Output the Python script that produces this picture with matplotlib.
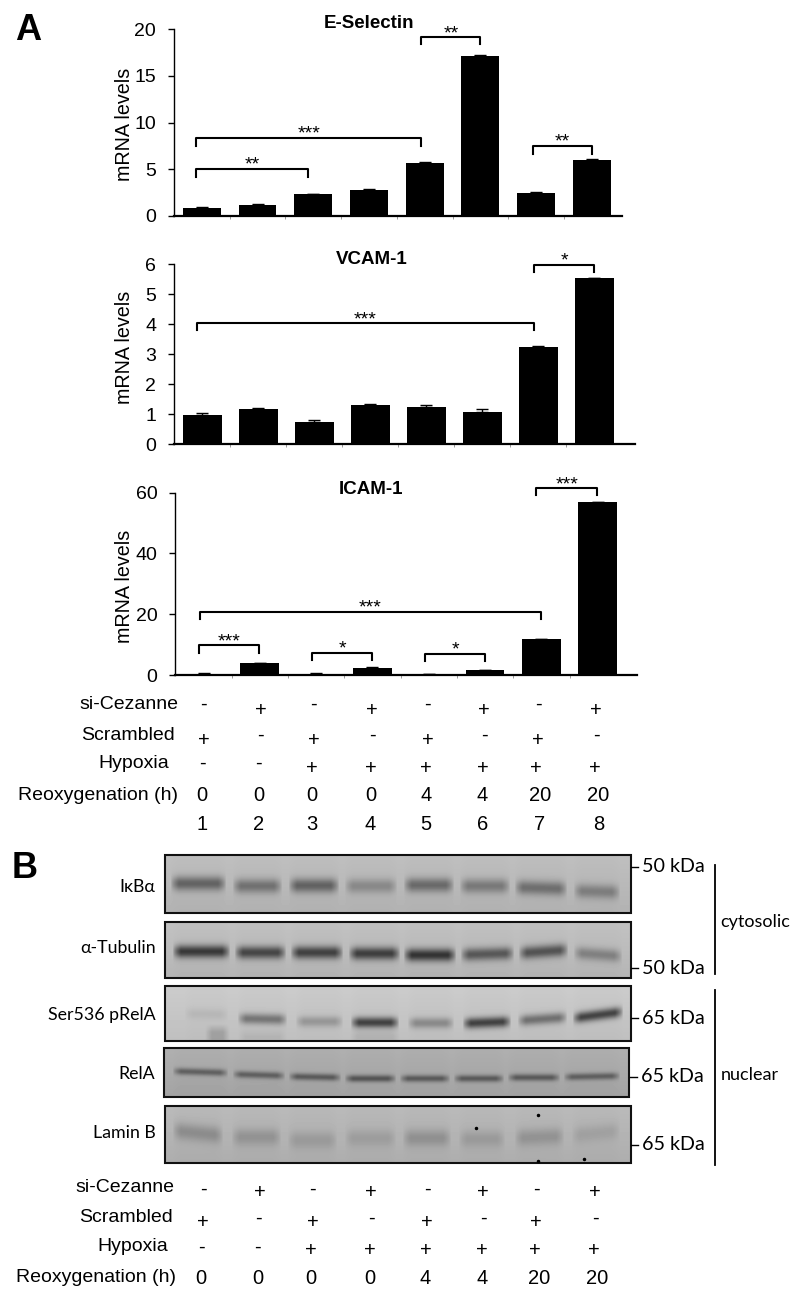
import numpy as np
import matplotlib
matplotlib.use('Agg')
import matplotlib.pyplot as plt
from matplotlib.patches import Rectangle

plt.rcParams['font.family'] = ['Liberation Sans', 'DejaVu Sans']

# bar values
esel_vals = [0.9, 1.2, 2.4, 2.75, 5.7, 17.15, 2.5, 6.0]
esel_errs = [0.07, 0.08, 0.0, 0.09, 0.1, 0.07, 0.08, 0.08]
vcam_vals = [0.98, 1.16, 0.75, 1.31, 1.24, 1.07, 3.23, 5.52]
vcam_errs = [0.04, 0.03, 0.05, 0.03, 0.05, 0.09, 0.05, 0.02]
icam_vals = [0.4, 3.9, 0.4, 2.3, 0.3, 1.5, 11.7, 56.8]
icam_errs = [0.2, 0.2, 0.1, 0.2, 0.1, 0.1, 0.3, 0.3]

# brackets: first bar, last bar, line height, foot height, stars
esel_brackets = [(-0.1, 1.9, 5.03, 4.17, '**'), (-0.1, 3.94, 8.37, 7.5, '***'),
                 (3.94, 5.0, 19.1, 18.4, '**'), (5.94, 7.0, 7.5, 6.66, '**')]
vcam_brackets = [(-0.1, 5.92, 4.02, 3.8, '***'), (5.93, 7.0, 5.98, 5.72, '*')]
icam_brackets = [(-0.06, 5.99, 20.7, 18.4, '***'), (-0.08, 0.99, 9.8, 7.35, '***'),
                 (1.93, 2.99, 7.35, 4.9, '*'), (3.94, 5.0, 7.0, 4.5, '*'),
                 (5.91, 6.99, 61.4, 59.1, '***')]

row_sicez = ['-', '+', '-', '+', '-', '+', '-', '+']
row_scram = ['+', '-', '+', '-', '+', '-', '+', '-']
row_hypox = ['-', '-', '+', '+', '+', '+', '+', '+']
row_reoxy = ['0', '0', '0', '0', '4', '4', '20', '20']
row_lanes = ['1', '2', '3', '4', '5', '6', '7', '8']

# blot lanes: left edge, right edge, band centre (px), band darkness, tilt
ikb_left = [171, 233, 289, 345, 404, 460, 515, 574]
ikb_right = [226, 282, 339, 397, 454, 510, 567, 620]
ikb_y = [883.5, 886, 885.5, 886, 885, 886, 888, 891.5]
ikb_dark = [0.33, 0.27, 0.33, 0.18, 0.30, 0.24, 0.28, 0.22]
ikb_tilt = [0, 0, 0, 0, 0, 0, 0.03, 0.03]
tub_left = [173, 235, 291, 349, 404, 461, 519, 574]
tub_right = [230, 286, 343, 400, 456, 514, 568, 622]
tub_y = [951.5, 952.5, 952.5, 953.5, 955, 954, 951.5, 954.5]
tub_dark = [0.50, 0.45, 0.47, 0.48, 0.52, 0.38, 0.40, 0.22]
tub_tilt = [0, 0, 0, 0, 0, -0.03, -0.07, 0.07]
prela_left = [185, 238, 296, 351, 408, 463, 518, 573]
prela_right = [228, 287, 343, 399, 454, 511, 567, 623]
prela_y = [1014, 1019, 1021.5, 1022.5, 1023, 1022.5, 1019, 1015]
prela_dark = [0.05, 0.30, 0.17, 0.50, 0.22, 0.50, 0.32, 0.50]
prela_tilt = [0.02, 0.02, 0, 0, 0, -0.04, -0.07, -0.13]
rela_left = [173, 233, 289, 345, 400, 454, 508, 564]
rela_right = [228, 285, 341, 396, 450, 504, 560, 620]
rela_y = [1072, 1075, 1077, 1078.5, 1078.5, 1078.5, 1077.5, 1076.5]
rela_dark = [0.28, 0.28, 0.30, 0.32, 0.30, 0.30, 0.30, 0.28]
rela_tilt = [0.03, 0.03, 0.02, 0, 0, 0, 0, -0.02]
lamin_left = [173, 232, 288, 345, 403, 459, 515, 572]
lamin_right = [223, 281, 337, 396, 451, 505, 564, 620]
lamin_y = [1133, 1137, 1140, 1138, 1138, 1139, 1137, 1133]
lamin_dark = [0.15, 0.12, 0.09, 0.08, 0.13, 0.09, 0.12, 0.07]
lamin_tilt = [0.1, 0, 0, 0, 0, 0, -0.04, -0.1]
lamin_spec_x = [538, 476, 538, 583.5]
lamin_spec_y = [1115, 1128, 1161, 1159]

W, H = 800, 1301
fig = plt.figure(figsize=(W / 100, H / 100), dpi=100)


def bar_panel(vals, errs, brackets, title, ticks, labels, axis_x, step, x_ext,
              y_top, y_zero, bar_w, title_xy, ylab_y):
    px_w = step * (8 + x_ext)
    ax = fig.add_axes([axis_x / W, 1 - y_zero / H, px_w / W, (y_zero - y_top) / H])
    ax.patch.set_alpha(0)
    x = np.arange(8)
    ax.bar(x, vals, width=bar_w, color='black', zorder=3)
    ax.errorbar(x, vals, yerr=[[0] * 8, errs], fmt='none', ecolor='black',
                elinewidth=1, capsize=4, capthick=1, zorder=2)
    ax.set_xlim(-0.5, 7.5 + x_ext)
    ax.set_ylim(0, ticks[-1])
    for s in ['top', 'right']:
        ax.spines[s].set_visible(False)
    ax.spines['left'].set_linewidth(1.0)
    ax.spines['bottom'].set_linewidth(1.6)
    ax.set_yticks(ticks)
    ax.set_yticklabels(labels, fontsize=14)
    ax.tick_params(axis='y', length=4.5, width=1.0, pad=8.5)
    ax.set_xticks(np.arange(0.5, 7.5, 1))
    ax.set_xticklabels([])
    ax.tick_params(axis='x', length=2, width=0.7, color='#999999')
    for x0, x1, top, foot, stars in brackets:
        ax.plot([x0, x0, x1, x1], [foot, top, top, foot], color='black', lw=1.5,
                clip_on=False, solid_joinstyle='round', zorder=4)
        ax.annotate(stars, ((x0 + x1) / 2, top), xytext=(0, -3.5), textcoords='offset points',
                    ha='center', va='bottom', fontsize=14, annotation_clip=False)
    pax.text(title_xy[0], title_xy[1], title, fontsize=13.5, fontweight='bold',
             ha='center', va='center')
    pax.text(124, ylab_y, 'mRNA levels', fontsize=14.2, rotation=90, ha='center', va='center')
    return ax


def row(labels, xs, y_minus, y_plus, name, name_x, name_y, size=14):
    pax.text(name_x, name_y + 1.5, name, ha='right', va='center', fontsize=size)
    for lab, xp in zip(labels, xs):
        yp = y_plus if lab == '+' else y_minus
        pax.text(xp, yp + 1.5, lab, ha='center', va='center', fontsize=size + 0.5)


def blot(box, bg, lefts, rights, ys, darks, tilts, sigma, smears=()):
    x0, y0, x1, y1 = box
    xx, yy = np.meshgrid(np.arange(x0, x1) + 0.5, np.arange(y0, y1) + 0.5)
    # background gets a little darker towards the foot of the membrane
    img = np.full(xx.shape, float(bg)) - 0.05 * (yy - y0) / (y1 - y0)
    for l, r, yc, d, t in zip(lefts, rights, ys, darks, tilts):
        edge = np.clip((xx - l) / 8, 0, 1) * np.clip((r - xx) / 8, 0, 1)
        edge = edge ** 0.6
        mid = yc + t * (xx - (l + r) / 2)
        img -= d * edge * np.exp(-((yy - mid) / sigma) ** 2 / 2)
        img -= 0.008 * edge
    for l, r, t, b, d in smears:
        edge = np.clip((xx - l) / 7, 0, 1) * np.clip((r - xx) / 7, 0, 1)
        img -= d * edge * np.clip((yy - t) / 8, 0, 1) * np.clip((b - yy) / 4 + 0.5, 0, 1)
    pax.imshow(np.clip(img, 0, 1), cmap='gray', vmin=0, vmax=1, extent=(x0, x1, y1, y0),
               aspect='auto', interpolation='bilinear', zorder=1)
    pax.add_patch(Rectangle((x0, y0), x1 - x0, y1 - y0, fill=False, ec='#111111', lw=1.5, zorder=2))


# overlay in pixel coordinates for labels and blots
pax = fig.add_axes([0, 0, 1, 1], zorder=5)
pax.patch.set_alpha(0)
pax.axis('off')

bar_panel(esel_vals, esel_errs, esel_brackets, 'E-Selectin', [0, 5, 10, 15, 20],
          ['0', '5', '10', '15', '20'], 174, 55.7, 0.04, 29, 216, 0.68, (369, 24), 124)
bar_panel(vcam_vals, vcam_errs, vcam_brackets, 'VCAM-1', [0, 1, 2, 3, 4, 5, 6],
          ['0', '1', '2', '3', '4', '5', '6'], 174.4, 56, 0.22, 264, 444, 0.69, (371.5, 260), 347)
bar_panel(icam_vals, icam_errs, icam_brackets, 'ICAM-1', [0, 20, 40, 60],
          ['0', '20', '40', '60'], 175.4, 56.3, 0.2, 492.7, 675, 0.69, (370.5, 489), 586)

pax.text(28, 31, 'A', fontsize=26, fontweight='bold', ha='center', va='center')
pax.text(25, 869, 'B', fontsize=26, fontweight='bold', ha='center', va='center')

# treatment rows, panel A
xs_a1 = [203, 260.6, 313, 371.7, 427.7, 484, 538, 596]
xs_a2 = [204, 260.6, 313.7, 372, 427.7, 484.5, 538, 596.4]
xs_a3 = [202.6, 258.6, 312, 371, 426, 483, 536, 595]
xs_a4 = [202, 258.6, 311.7, 370.5, 426, 482.4, 540, 598.4]
row(row_sicez, xs_a1, 703, 709, 'si-Cezanne', 178.5, 703)
row(row_scram, xs_a2, 734, 739, 'Scrambled', 175, 734)
row(row_hypox, xs_a3, 762, 767.5, 'Hypoxia', 169.5, 762)
row(row_reoxy, xs_a4, 794, 794, 'Reoxygenation (h)', 177.7, 794)
row(row_lanes, xs_a4, 823, 823, '', 0, 823)

# treatment rows, panel B
xs_b1 = [203, 259.4, 312.5, 371, 427, 483, 536, 595]
xs_b2 = [203, 258.6, 312.5, 371, 426.5, 483, 536, 595]
xs_b3 = [201.4, 257.8, 311.3, 369.7, 425.7, 482, 535, 593.5]
xs_b4 = [201, 257.4, 311, 369.7, 424.8, 482, 539, 597.6]
row(row_sicez, xs_b1, 1187.5, 1190.5, 'si-Cezanne', 174.8, 1185.5)
row(row_scram, xs_b2, 1217, 1221.5, 'Scrambled', 172.4, 1216)
row(row_hypox, xs_b3, 1245.5, 1249.5, 'Hypoxia', 168, 1245)
row(row_reoxy, xs_b4, 1276.5, 1276.5, 'Reoxygenation (h)', 176.5, 1276.5)

blot((165, 855, 631, 913), 0.75, ikb_left, ikb_right, ikb_y, ikb_dark, ikb_tilt, 5.0)
blot((165, 922, 631, 978), 0.76, tub_left, tub_right, tub_y, tub_dark, tub_tilt, 4.5)
blot((165, 986, 631, 1041), 0.80, prela_left, prela_right, prela_y, prela_dark, prela_tilt, 3.8,
     smears=[(205, 230, 1024, 1041, 0.12), (350, 400, 1028, 1041, 0.05), (238, 287, 1028, 1041, 0.04)])
blot((164, 1048, 629, 1097), 0.69, rela_left, rela_right, rela_y, rela_dark, rela_tilt, 2.5)
blot((165, 1106, 631, 1163), 0.73, lamin_left, lamin_right, lamin_y, lamin_dark, lamin_tilt, 6.0)
pax.plot(lamin_spec_x, lamin_spec_y, ls='none', marker='o', ms=1.5, color='black', zorder=2)

# blot labels
blot_names = ['I\u03baB\u03b1', '\u03b1-Tubulin', 'Ser536 pRelA', 'RelA', 'Lamin B']
blot_name_y = [887, 948, 1015, 1074, 1133]
for name, yp in zip(blot_names, blot_name_y):
    pax.text(155.5, yp, name, ha='right', va='center', fontsize=12.8, family=['Lato', 'DejaVu Sans'])

kda_labels = ['50 kDa', '50 kDa', '65 kDa', '65 kDa', '65 kDa']
kda_y = [867, 968, 1018, 1077, 1145]
kda_x = [642, 642, 642, 641, 642]
for lab, xp, yp in zip(kda_labels, kda_x, kda_y):
    pax.text(xp, yp, lab, ha='left', va='center', fontsize=14.2, family=['Lato', 'DejaVu Sans'])
    pax.plot([xp - 11, xp - 4.5], [yp, yp], color='black', lw=1)

pax.plot([715, 715], [865, 974], color='black', lw=1.3)
pax.plot([715, 715], [990, 1165], color='black', lw=1.3)
pax.text(720.5, 922, 'cytosolic', ha='left', va='center', fontsize=13, family=['Lato', 'DejaVu Sans'])
pax.text(720.5, 1075, 'nuclear', ha='left', va='center', fontsize=13, family=['Lato', 'DejaVu Sans'])

pax.set_xlim(0, W)
pax.set_ylim(H, 0)

fig.savefig('out.png', dpi=100)
